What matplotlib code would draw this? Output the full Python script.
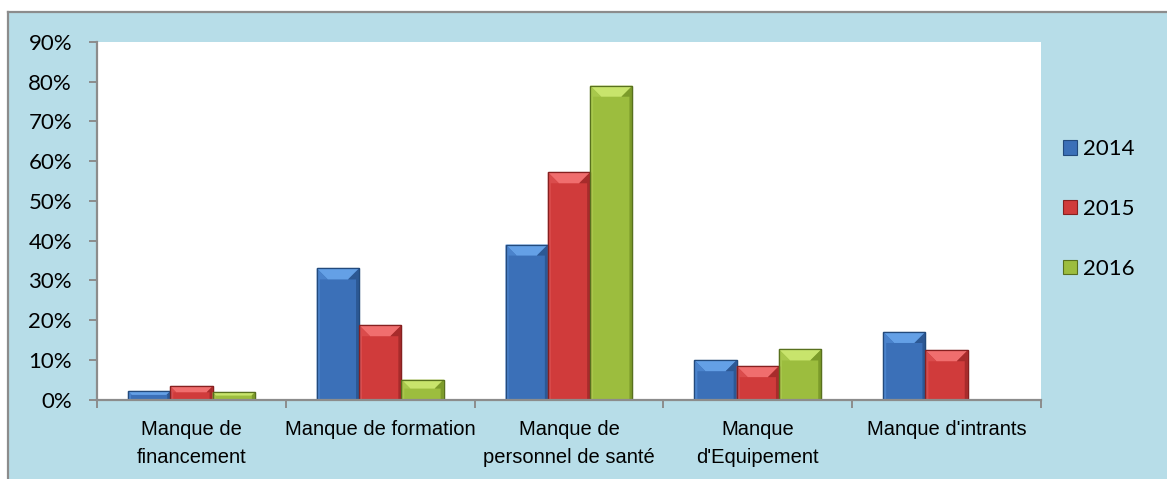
import matplotlib
matplotlib.use("Agg")
import matplotlib.pyplot as plt
from matplotlib.patches import Polygon, Rectangle, Patch
from matplotlib.lines import Line2D
from matplotlib.ticker import FixedLocator, PercentFormatter
import numpy as np

categories = ["Manque de\nfinancement", "Manque de formation",
              "Manque de\npersonnel de santé", "Manque\nd'Equipement",
              "Manque d'intrants"]
years = ["2014", "2015", "2016"]
values_2014 = [2.1, 33.0, 39.0, 9.9, 17.0]
values_2015 = [3.3, 18.7, 57.2, 8.4, 12.4]
values_2016 = [1.8, 5.0, 79.0, 12.6, 0.0]
series = [values_2014, values_2015, values_2016]

# face, top bevel, left edge, right edge, outline
palette = [
    ("#3B70B8", "#64A0E6", "#4A83CC", "#2C5894", "#234A7C"),
    ("#D03B3B", "#F06E6E", "#DA4C4C", "#A72B2B", "#862020"),
    ("#9CBD3E", "#C8E46C", "#A8C84C", "#7C9B2A", "#58701E"),
]

W, H, DPI = 1167, 479, 100
fig = plt.figure(figsize=(W / DPI, H / DPI), dpi=DPI, facecolor="white")

# chart area background with left/top border
bg = Rectangle((8 / W, 0), 1, 1 - 12 / H, transform=fig.transFigure,
               facecolor="#B7DDE8", edgecolor="none", zorder=-10)
fig.patches.append(bg)
fig.add_artist(Line2D([8 / W, 1], [1 - 12 / H, 1 - 12 / H], transform=fig.transFigure,
                      color="#8C8C8C", lw=1.6))
fig.add_artist(Line2D([8 / W, 8 / W], [0, 1 - 12 / H], transform=fig.transFigure,
                      color="#8C8C8C", lw=1.6))

ax_l, ax_r, ax_t, ax_b = 97, 1041, 42, 399.5
ax = fig.add_axes([ax_l / W, 1 - ax_b / H, (ax_r - ax_l) / W, (ax_b - ax_t) / H])
ax.set_facecolor("white")

n = len(categories)
x = np.arange(n)
bw = 0.224
ax.set_xlim(-0.5, n - 0.5)
ax.set_ylim(0, 90)

px_x = (n) / (ax_r - ax_l)      # data units per pixel, x
px_y = 90 / (ax_b - ax_t)       # data units per pixel, y

for i, (vals, cols) in enumerate(zip(series, palette)):
    face, top, left, right, edge = cols
    bars = ax.bar(x + (i - 1) * bw, vals, width=bw, color=face,
                  edgecolor=edge, linewidth=0.9, zorder=2)
    for b in bars:
        h = b.get_height()
        if h <= 0:
            continue
        x0 = b.get_x()
        w = b.get_width()
        hp = h / px_y
        d = min(11, hp * 0.45)
        dx, dy = d * px_x, d * px_y
        sx = 3 * px_x
        # top bevel
        ax.add_patch(Polygon([(x0, h), (x0 + w, h), (x0 + w - dx, h - dy), (x0 + dx, h - dy)],
                             closed=True, facecolor=top, edgecolor="none", zorder=3))
        # side strips
        ax.add_patch(Polygon([(x0, 0), (x0, h), (x0 + dx, h - dy), (x0 + sx, h - dy), (x0 + sx, 0)],
                             closed=True, facecolor=left, edgecolor="none", zorder=3))
        ax.add_patch(Polygon([(x0 + w, 0), (x0 + w, h), (x0 + w - dx, h - dy), (x0 + w - sx, h - dy),
                              (x0 + w - sx, 0)],
                             closed=True, facecolor=right, edgecolor="none", zorder=3))
        ax.add_patch(Rectangle((x0, 0), w, h, facecolor="none", edgecolor=edge,
                               linewidth=0.9, zorder=4))

for s in ("top", "right"):
    ax.spines[s].set_visible(False)
for s in ("left", "bottom"):
    ax.spines[s].set_color("#8C8C8C")
    ax.spines[s].set_linewidth(1.6)
    ax.spines[s].set_zorder(5)

ax.yaxis.set_major_locator(FixedLocator(np.arange(0, 91, 10)))
ax.yaxis.set_major_formatter(PercentFormatter(decimals=0))
ax.tick_params(axis="y", direction="out", length=6, width=1.4, color="#8C8C8C",
               pad=12, labelsize=16, labelcolor="black")
for lab in ax.get_yticklabels():
    lab.set_family("Lato")

ax.set_xticks(x)
ax.set_xticklabels(categories, fontfamily="Liberation Sans", fontsize=14.5,
                   linespacing=1.55)
ax.set_xticks(np.arange(-0.5, n, 1), minor=True)
ax.tick_params(axis="x", which="major", length=0, pad=15)
ax.tick_params(axis="x", which="minor", direction="out", length=6, width=1.4,
               color="#8C8C8C")

handles = [Patch(facecolor=c[0], edgecolor=c[4], linewidth=0.8) for c in palette]
fig.legend(handles, years, loc="center left",
           bbox_to_anchor=(1063 / W, 1 - 209 / H), frameon=False,
           prop={"family": "Lato", "size": 16}, handlelength=0.62, handleheight=0.62,
           handletextpad=0.3, labelspacing=1.78, borderaxespad=0, borderpad=0)

fig.savefig("out.png", dpi=DPI, facecolor="white")
